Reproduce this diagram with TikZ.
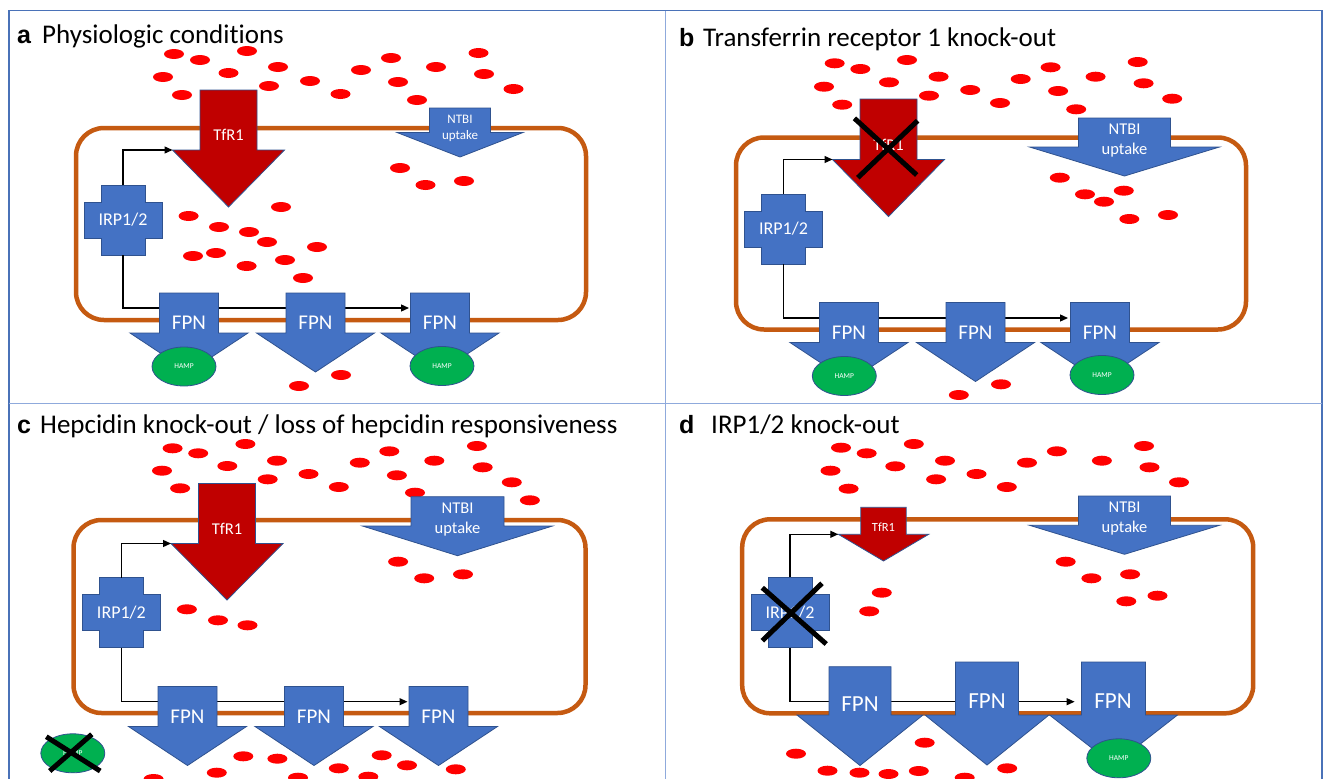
\documentclass[tikz,border=0pt]{standalone}
\usepackage{fontspec}
\setmainfont{Carlito}[Ligatures={NoCommon}]
\newfontfamily\panelfont{Liberation Sans}
\usetikzlibrary{arrows.meta,shapes.geometric}

\definecolor{shapeblue}{HTML}{4472C4}
\definecolor{edgeblue}{HTML}{2F528F}
\definecolor{tfrred}{HTML}{C00000}
\definecolor{membrane}{HTML}{C55A11}
\definecolor{hampgreen}{HTML}{00B050}
\definecolor{iron}{HTML}{FF0000}
\definecolor{gridblue}{HTML}{8FAADC}
\definecolor{frameblue}{HTML}{4A72B8}

% downward block arrow: name, fill, centre x, top y, shaft half-width, neck y, head half-width, tip y
\newcommand\blockarrow[8]{%
  \filldraw[fill=#2, draw=edgeblue, line width=0.8pt, line join=miter]
    ({#3-#5},#4) -- ({#3+#5},#4) -- ({#3+#5},#6) -- ({#3+#7},#6) -- (#3,#8)
    -- ({#3-#7},#6) -- ({#3-#5},#6) -- cycle;
  \coordinate (#1-hl) at ({#3-#7},#6);
}
% plus-shaped IRP body around a centre point
\newcommand\irpcross[2]{%
  \filldraw[fill=shapeblue, draw=edgeblue, line width=0.8pt]
    ({#1-22},{#2-35}) -- ({#1+22},{#2-35}) -- ({#1+22},{#2-18}) -- ({#1+39},{#2-18})
    -- ({#1+39},{#2+18}) -- ({#1+22},{#2+18}) -- ({#1+22},{#2+35}) -- ({#1-22},{#2+35})
    -- ({#1-22},{#2+18}) -- ({#1-39},{#2+18}) -- ({#1-39},{#2-18}) -- ({#1-22},{#2-18}) -- cycle;
}

\tikzset{
  lbl/.style={text=white, inner sep=0pt},
  irpbox/.style={minimum width=44pt, minimum height=70pt, inner sep=0pt, text=white,
    font=\fontsize{18}{20}\selectfont},
  hamp/.style={ellipse, draw=edgeblue, fill=hampgreen, line width=0.8pt, minimum width=64pt,
    minimum height=39pt, inner sep=0pt, text=white, font=\fontsize{7.5}{8}\selectfont},
  cell/.style={draw=membrane, line width=4.5pt, rounded corners=28pt, inner sep=0pt},
  conn/.style={line width=1.3pt, -{Triangle[length=8pt,width=7pt]}},
  knock/.style={line width=5pt, black},
  title/.style={anchor=base west, inner sep=0pt, font=\fontsize{27}{30}\selectfont},
  tag/.style={anchor=base west, inner sep=0pt, font=\panelfont\bfseries\fontsize{25}{30}\selectfont},
  fe/.style={iron},
}

\begin{document}
\begin{tikzpicture}[x=1pt, y=-1pt]
\useasboundingbox (0,0) rectangle (1323,779);
\fill[white] (0,0) rectangle (1323,779);

% frame and panel dividers
\draw[frameblue, line width=1.5pt] (9,779) -- (9,10.5) -- (1322,10.5) -- (1322,779);
\draw[gridblue, line width=1pt] (665.5,10.5) -- (665.5,779) (9,403.5) -- (1322,403.5);

% ---------------- panel a ----------------
\node[tag] (tagA) at (17,43.5) {a};
\node[title] (titleA) at (42,43.5) {Physiologic conditions};
\node[cell, minimum width=510pt, minimum height=192pt] (cellA) at (331,224) {};
\foreach \x/\y in {174/54,200/60,247/51,163/77,228.5/73,278/67,182/95,269/86,310/81,340.5/94,
  361/70,391/58,398/82,417/100,436/67,478.5/53,484/74,513.5/89,
  400/168,425.5/185,464/181,281/207,188.6/216,219/227,249/232,267/242,317/247,193/256,216/253,
  285/260,246.6/266,303/278,341/375,299/386}
  \fill[fe] (\x,\y) ellipse [x radius=10pt, y radius=5pt];
\blockarrow{tfrA}{tfrred}{228.5}{90}{28.5}{150}{56}{207}
\blockarrow{ntbiA}{shapeblue}{460}{108}{30.5}{132.5}{63}{157}
\irpcross{123}{220}
\node[irpbox] (irpA) at (123,220) {IRP1/2};
\coordinate (exitA) at (409,308);
\draw[conn] (irpA.north) |- (tfrA-hl);
\draw[conn] (irpA.south) |- (exitA);
\blockarrow{fpnA1}{shapeblue}{189}{293}{29.5}{333}{59}{372}
\blockarrow{fpnA2}{shapeblue}{315.5}{293}{29.5}{333}{59}{372}
\blockarrow{fpnA3}{shapeblue}{440}{293}{29.5}{333}{59}{372}
\node[hamp] (hampA1) at (184,366.5) {HAMP};
\node[hamp] (hampA3) at (442,366) {HAMP};
\node[lbl, font=\fontsize{16.5}{18}\selectfont] (tfrAt) at (228.5,135) {TfR1};
\node[lbl, align=center, font=\fontsize{13}{16}\selectfont] (ntbiAt) at (460,128) {NTBI\\uptake};
\foreach \x [count=\i] in {189,315.5,440}
  \node[lbl, font=\fontsize{21}{22}\selectfont] (fpnAt\i) at (\x,323) {FPN};

% ---------------- panel b ----------------
\node[tag] (tagB) at (679,46.5) {b};
\node[title] (titleB) at (703,46.5) {Transferrin receptor 1 knock-out};
\node[cell, minimum width=510pt, minimum height=192pt] (cellB) at (991,233.5) {};
\foreach \x/\y in {834.7/63.3,860.3/69,907/60,824/86.7,889/82.3,938.6/76.7,842.2/104.7,929/95.7,
  970.2/90,1000/103,1020.7/79,1050.6/67.3,1058.1/91,1076.2/109.3,1095.6/76.7,1137.7/62,
  1143.6/83.3,1172.2/98.7,
  1059.8/177.7,1085/194.3,1123.8/190.7,1104/201.7,1129.3/219,1168/215,
  1001/384.3,958.8/395}
  \fill[fe] (\x,\y) ellipse [x radius=10pt, y radius=5pt];
\blockarrow{tfrB}{tfrred}{888.5}{99}{28.5}{159.5}{56}{216.5}
\blockarrow{ntbiB}{shapeblue}{1124.5}{118}{46}{147}{95}{176}
\irpcross{783.5}{229}
\node[irpbox] (irpB) at (783.5,229) {IRP1/2};
\coordinate (exitB) at (1068,318);
\draw[conn] (irpB.north) |- (tfrB-hl);
\draw[conn] (irpB.south) |- (exitB);
\blockarrow{fpnB1}{shapeblue}{849}{302.5}{29.5}{342.5}{59}{381.5}
\blockarrow{fpnB2}{shapeblue}{975.5}{302.5}{29.5}{342.5}{59}{381.5}
\blockarrow{fpnB3}{shapeblue}{1100}{302.5}{29.5}{342.5}{59}{381.5}
\node[hamp] (hampB1) at (844.3,376) {HAMP};
\node[hamp] (hampB3) at (1102,375) {HAMP};
\node[lbl, font=\fontsize{16.5}{18}\selectfont] (tfrBt) at (888.5,144.5) {TfR1};
\node[lbl, align=center, font=\fontsize{16.5}{20}\selectfont] (ntbiBt) at (1124.5,141) {NTBI\\uptake};
\foreach \x [count=\i] in {849,975.5,1100}
  \node[lbl, font=\fontsize{21}{22}\selectfont] (fpnBt\i) at (\x,332.5) {FPN};
\draw[knock] (854.4,118.3) -- (916.7,175);
\draw[knock] (917.6,120.7) -- (857.8,177.7);

% ---------------- panel c ----------------
\node[tag] (tagC) at (17,433.3) {c};
\node[title] (titleC) at (40,433.3) {Hepcidin knock-out / loss of hepcidin responsiveness};
\node[cell, minimum width=512pt, minimum height=193pt] (cellC) at (329.5,616.5) {};
\foreach \x/\y in {172.6/448.3,198.2/453.3,245.4/444,162/470.7,227.3/466,277/460.7,180.1/488.3,
  267.7/479.3,308.5/474,338.8/487,359.8/462.7,389.3/451.3,396.9/475.3,415/492.7,434.3/460.7,
  476.9/446,482.7/467.3,511.8/482.3,529.9/500.3,
  398.1/561.7,424.2/578.3,463/574.3,186.9/609.3,218/620.3,247.5/625.3,
  243.3/756.3,277.4/758.7,216.8/772.7,338.8/768.3,381.7/755.3,407/765.3,455.8/769.3,
  153.6/779,298/777.7,368.3/776.7}
  \fill[fe] (\x,\y) ellipse [x radius=10pt, y radius=5pt];
\blockarrow{tfrC}{tfrred}{227}{483.5}{28.5}{543.5}{56}{600}
\blockarrow{ntbiC}{shapeblue}{457.5}{496.7}{46.5}{526}{95}{555.7}
\irpcross{121.4}{612.7}
\node[irpbox] (irpC) at (121.4,612.7) {IRP1/2};
\coordinate (exitC) at (407.5,701.7);
\draw[conn] (irpC.north) |- (tfrC-hl);
\draw[conn] (irpC.south) |- (exitC);
\blockarrow{fpnC1}{shapeblue}{187.5}{686.5}{29.5}{726.5}{59}{765.5}
\blockarrow{fpnC2}{shapeblue}{314}{686.5}{29.5}{726.5}{59}{765.5}
\blockarrow{fpnC3}{shapeblue}{438.5}{686.5}{29.5}{726.5}{59}{765.5}
\node[lbl, font=\fontsize{16.5}{18}\selectfont] (tfrCt) at (227,528.5) {TfR1};
\node[lbl, align=center, font=\fontsize{16.5}{20}\selectfont] (ntbiCt) at (457.5,520) {NTBI\\uptake};
\foreach \x [count=\i] in {187.5,314,438.5}
  \node[lbl, font=\fontsize{21}{22}\selectfont] (fpnCt\i) at (\x,716.5) {FPN};
\node[hamp] (hampC) at (72.8,753.3) {HAMP};
\draw[knock] (46.3,736.7) -- (100.2,771);
\draw[knock] (91.8,734.3) -- (49.7,771);

% ---------------- panel d ----------------
\node[tag] (tagD) at (679,433.3) {d};
\node[title] (titleD) at (711,433.3) {IRP1/2 knock-out};
\node[cell, minimum width=511pt, minimum height=194pt] (cellD) at (997.7,616.3) {};
\foreach \x/\y in {841/447.7,866.7/453.3,913.8/444,830.5/470.7,895.3/466.3,945/460.7,848.6/488.7,
  936.1/479.3,976.5/474,1006.8/487,1027/462.7,1056.9/451.3,1101.9/460.7,1144/446,1149.5/467.3,
  1179/482.3,
  1065.7/561.7,1091.4/578.3,1130.1/574.3,1126.3/601.3,1157.5/595.7,881.8/592.7,869.2/611.3,
  796/753.7,924.7/742.7,827.5/770.7,859.5/772.7,888.5/774,918.8/771,1007.2/768.3,964.7/777.7}
  \fill[fe] (\x,\y) ellipse [x radius=10pt, y radius=5pt];
\blockarrow{tfrD}{tfrred}{883.5}{507.3}{22.7}{534.3}{45.2}{561}
\blockarrow{ntbiD}{shapeblue}{1124.5}{496}{46}{525.3}{95}{554.3}
\irpcross{790}{612.5}
\node[irpbox] (irpD) at (790,612.5) {IRP1/2};
\coordinate (exitD) at (1074.6,701.7);
\draw[conn] (irpD.north) |- (tfrD-hl);
\draw[conn] (irpD.south) |- (exitD);
\blockarrow{fpnD1}{shapeblue}{860}{666.7}{31}{715}{63}{765.5}
\blockarrow{fpnD2}{shapeblue}{987}{662}{31.5}{715}{62}{765}
\blockarrow{fpnD3}{shapeblue}{1113.5}{662}{32}{715}{64}{765}
\node[hamp] (hampD3) at (1118.8,758.3) {HAMP};
\node[lbl, font=\fontsize{12.5}{14}\selectfont] (tfrDt) at (883.5,527) {TfR1};
\node[lbl, align=center, font=\fontsize{16.5}{20}\selectfont] (ntbiDt) at (1124.5,519) {NTBI\\uptake};
\node[lbl, font=\fontsize{23}{24}\selectfont] (fpnDt1) at (860,704) {FPN};
\node[lbl, font=\fontsize{23}{24}\selectfont] (fpnDt2) at (987,701) {FPN};
\node[lbl, font=\fontsize{23}{24}\selectfont] (fpnDt3) at (1113,701) {FPN};
\draw[knock] (762.3,587.7) -- (826.2,644);
\draw[knock] (822,583.3) -- (762.3,640.7);
\end{tikzpicture}
\end{document}
